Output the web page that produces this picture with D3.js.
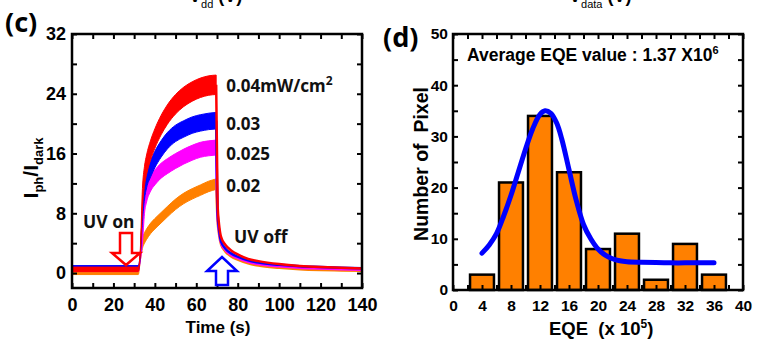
<!DOCTYPE html>
<html><head><meta charset="utf-8">
<script src="https://cdn.jsdelivr.net/npm/d3@7/dist/d3.min.js"></script>
<style>
html,body{margin:0;padding:0;background:#fff;}
svg{display:block;}
</style></head>
<body>
<svg id="c" width="759" height="340"></svg>
<script>
// ---------- Panel (c) data ----------
const seriesNames = ["0.04mW/cm²", "0.03", "0.025", "0.02"];
const seriesColors = ["#ff0000", "#0000ff", "#ff00ff", "#ff8000"];
const timeRise = [0, 32, 33, 34, 35, 36, 38, 40, 43, 46, 50, 54, 58, 62, 66, 69.6];
const redRise     = [0.5, 0.5, 3.0, 10.0, 13.0, 14.5, 16.5, 18.0, 19.8, 21.2, 22.6, 23.6, 24.3, 24.8, 25.1, 25.2];
const blueRise    = [0.7, 0.7, 2.5, 8.0, 11.0, 12.5, 14.0, 15.2, 16.6, 17.7, 18.7, 19.3, 19.8, 20.1, 20.3, 20.4];
const magentaRise = [0.5, 0.5, 2.0, 5.0, 9.0, 10.5, 12.0, 12.8, 13.7, 14.3, 15.0, 15.6, 16.1, 16.5, 16.7, 16.8];
const orangeRise  = [0.1, 0.1, 2.0, 4.0, 4.7, 5.2, 6.0, 6.6, 7.4, 8.2, 9.2, 10.0, 10.6, 11.1, 11.6, 11.9];
const timeDecay = [69.6, 70.3, 71, 72, 74, 77, 80, 85, 90, 100, 110, 120, 130, 140];
const redDecay     = [25.2, 9.0, 6.5, 4.8, 3.8, 3.0, 2.5, 1.9, 1.6, 1.2, 0.95, 0.8, 0.7, 0.6];
const blueDecay    = [20.4, 8.0, 5.8, 4.2, 3.3, 2.6, 2.2, 1.7, 1.4, 1.1, 0.9, 0.8, 0.7, 0.65];
const magentaDecay = [16.8, 7.5, 5.5, 4.0, 3.1, 2.4, 2.0, 1.5, 1.2, 0.9, 0.7, 0.6, 0.5, 0.45];
const orangeDecay  = [11.9, 7.0, 5.2, 3.8, 2.9, 2.2, 1.8, 1.3, 1.0, 0.7, 0.5, 0.4, 0.35, 0.3];
const bandHalfWidth = [1.3, 1.1, 1.0, 0.7];   // noise spread under UV (I_ph/I_dark units)
const riseData = [redRise, blueRise, magentaRise, orangeRise];
const decayData = [redDecay, blueDecay, magentaDecay, orangeDecay];
const xTicksC = [0, 20, 40, 60, 80, 100, 120, 140];
const yTicksC = [0, 8, 16, 24, 32];

// ---------- Panel (d) data ----------
const eqeBins = [4, 8, 12, 16, 20, 24, 28, 32, 36];
const pixelCounts = [3, 21, 34, 23, 8, 11, 2, 9, 3];
const fitX = [4, 5, 6, 7, 8, 9, 10, 11, 12, 12.7, 13.5, 14.3, 15, 16, 17, 18, 19, 20, 21, 22, 23, 24, 26, 28, 30, 32, 34, 36];
const fitY = [7.2, 8.8, 11, 14.5, 18.5, 23, 27.5, 31.5, 34.3, 35, 34.5, 32.6, 29.5, 23.5, 17.5, 12.8, 10, 8, 6.8, 6.1, 5.7, 5.5, 5.4, 5.35, 5.3, 5.3, 5.3, 5.3];
const xTicksD = [0, 4, 8, 12, 16, 20, 24, 28, 32, 36, 40];
const yTicksD = [0, 10, 20, 30, 40, 50];

const svg = d3.select("#c");
svg.append("rect").attr("width", 759).attr("height", 340).attr("fill", "#fff");

const ARIAL = "'Liberation Sans', Arial, sans-serif";
const NOTO = "'Noto Sans', 'Open Sans', sans-serif";

// top cut-off labels from panels above (cropped in the reference as well)
function cutLabel(x, sub) {
  const t = svg.append("text").attr("x", x).attr("y", 2)
    .attr("font-family", ARIAL).attr("font-weight", "bold").attr("font-size", 18).attr("fill", "#000");
  t.append("tspan").text("V");
  t.append("tspan").attr("font-size", 11).attr("dy", 6).attr("font-weight", "normal").text(sub);
  t.append("tspan").attr("dy", -6).text(" (V)");
}
cutLabel(189, "dd");
cutLabel(569, "data");

function drawAxes(g, x, y, xt, xminor, yt, yminor, fs, xpad, ypad) {
  const W = x.range(), H = y.range();
  const ax = (gen, tr, vals, lab) => {
    const a = g.append("g").attr("transform", tr)
      .call(gen.tickValues(vals).tickSizeInner(-5).tickSizeOuter(0)
        .tickFormat(lab ? d3.format("d") : ""));
    a.select(".domain").remove();
    a.selectAll("line").attr("stroke", "#000").attr("stroke-width", 2);
    a.selectAll("text").attr("font-family", ARIAL).attr("font-weight", "bold")
      .attr("font-size", fs).attr("fill", "#000");
    return a;
  };
  const b = ax(d3.axisBottom(x), `translate(0,${H[0]})`, xt, true);
  b.selectAll("text").attr("y", xpad).attr("dy", "0.71em");
  ax(d3.axisBottom(x), `translate(0,${H[0]})`, xminor, false);
  ax(d3.axisTop(x), `translate(0,${H[1]})`, xt, false);
  ax(d3.axisTop(x), `translate(0,${H[1]})`, xminor, false);
  const l = ax(d3.axisLeft(y), `translate(${W[0]},0)`, yt, true);
  l.selectAll("text").attr("x", -ypad);
  ax(d3.axisLeft(y), `translate(${W[0]},0)`, yminor, false);
  ax(d3.axisRight(y), `translate(${W[1]},0)`, yt, false);
  ax(d3.axisRight(y), `translate(${W[1]},0)`, yminor, false);
  g.append("rect").attr("x", W[0]).attr("y", H[1]).attr("width", W[1] - W[0]).attr("height", H[0] - H[1])
    .attr("fill", "none").attr("stroke", "#000").attr("stroke-width", 2.5);
}

// ================= Panel (c) =================
const xC = d3.scaleLinear().domain([0, 140]).range([72, 362]);
const yC = d3.scaleLinear().domain([-2, 32]).range([288, 34]);
const gC = svg.append("g");

const order = [3, 2, 1, 0];
order.forEach(i => {
  const rise = timeRise.map((t, k) => ({ t, v: riseData[i][k], h: t < 33.5 ? 0.3 : bandHalfWidth[i] }));
  gC.append("path").datum(rise)
    .attr("d", d3.area().x(d => xC(d.t)).y0(d => yC(d.v - d.h)).y1(d => yC(d.v + d.h)).curve(d3.curveMonotoneX))
    .attr("fill", seriesColors[i]).attr("stroke", seriesColors[i]).attr("stroke-width", 1);
});
order.forEach(i => {
  const dec = timeDecay.map((t, k) => ({ t, v: decayData[i][k] }));
  gC.append("path").datum(dec)
    .attr("d", d3.line().x(d => xC(d.t)).y(d => yC(d.v)).curve(d3.curveMonotoneX))
    .attr("fill", "none").attr("stroke", seriesColors[i]).attr("stroke-width", 2.5);
});

drawAxes(gC, xC, yC, xTicksC, d3.range(10, 140, 20), yTicksC, d3.range(4, 32, 8), 18, 10, 6);

const labelVals = [25.0, 20.0, 16.0, 11.7];
seriesNames.forEach((n, i) => {
  const t = gC.append("text").attr("x", xC(74.5)).attr("y", yC(labelVals[i]) + 6)
    .attr("font-family", NOTO).attr("font-weight", "bold").attr("font-size", 17).attr("fill", "#111");
  if (n.endsWith("²")) {
    t.append("tspan").text(n.slice(0, -1));
    t.append("tspan").attr("font-size", 12).attr("dy", -7).text("2");
  } else t.text(n);
});

gC.append("text").attr("x", 83).attr("y", 228).attr("font-family", NOTO).attr("font-weight", "bold")
  .attr("font-size", 17.5).attr("fill", "#111").text("UV on");
gC.append("text").attr("x", 234).attr("y", 243).attr("font-family", NOTO).attr("font-weight", "bold")
  .attr("font-size", 17.5).attr("fill", "#111").text("UV off");

function arrowPath(cx, tipY, dir, shaftHalf, headHalf, headLen, total) {
  const s = dir;
  const base = tipY - s * total, headBase = tipY - s * headLen;
  return `M${cx - shaftHalf},${base} L${cx + shaftHalf},${base} L${cx + shaftHalf},${headBase} L${cx + headHalf},${headBase} L${cx},${tipY} L${cx - headHalf},${headBase} L${cx - shaftHalf},${headBase} Z`;
}
gC.append("path").attr("d", arrowPath(126, 265, 1, 6, 14, 12, 32))
  .attr("fill", "#fff").attr("stroke", "#ff0000").attr("stroke-width", 2.5);
gC.append("path").attr("d", arrowPath(222, 257, -1, 6, 15, 14, 28))
  .attr("fill", "#fff").attr("stroke", "#0000ff").attr("stroke-width", 2.5);

const yt = gC.append("text").attr("transform", "translate(38,168) rotate(-90)").attr("text-anchor", "middle")
  .attr("font-family", ARIAL).attr("font-weight", "bold").attr("font-size", 21).attr("fill", "#000");
yt.append("tspan").text("I");
yt.append("tspan").attr("font-size", 13).attr("dy", 5).text("ph");
yt.append("tspan").attr("dy", -5).text("/I");
yt.append("tspan").attr("font-size", 13).attr("dy", 5).text("dark");

gC.append("text").attr("x", 218).attr("y", 333).attr("text-anchor", "middle")
  .attr("font-family", ARIAL).attr("font-weight", "bold").attr("font-size", 17).attr("fill", "#000").text("Time (s)");
gC.append("text").attr("x", 5).attr("y", 32).attr("font-family", NOTO).attr("font-weight", "bold")
  .attr("font-size", 27).attr("fill", "#000").text("(c)");

// ================= Panel (d) =================
const xD = d3.scaleLinear().domain([0, 40]).range([453, 743]);
const yD = d3.scaleLinear().domain([0, 50]).range([290, 34]);
const gD = svg.append("g");
const barW = 3.3;
gD.selectAll("rect.bar").data(eqeBins.map((b, i) => ({ b, c: pixelCounts[i] }))).enter()
  .append("rect").attr("class", "bar")
  .attr("x", d => xD(d.b - barW / 2)).attr("width", xD(barW) - xD(0))
  .attr("y", d => yD(d.c)).attr("height", d => yD(0) - yD(d.c))
  .attr("fill", "#ff8000").attr("stroke", "#000").attr("stroke-width", 2.5);

drawAxes(gD, xD, yD, xTicksD, d3.range(2, 40, 4), yTicksD, d3.range(5, 50, 10), 15.5, 10, 5);

gD.append("path").datum(fitX.map((x, i) => [x, fitY[i]]))
  .attr("d", d3.line().x(d => xD(d[0])).y(d => yD(d[1])).curve(d3.curveCatmullRom))
  .attr("fill", "none").attr("stroke", "#0000ff").attr("stroke-width", 5).attr("stroke-linecap", "round");

const av = gD.append("text").attr("x", 467).attr("y", 61).attr("font-family", ARIAL).attr("font-weight", "bold")
  .attr("font-size", 17.5).attr("fill", "#000");
av.append("tspan").text("Average EQE value : 1.37 X10");
av.append("tspan").attr("font-size", 11).attr("dy", -7).text("6");

gD.append("text").attr("transform", "translate(428,164) rotate(-90)").attr("text-anchor", "middle")
  .attr("font-family", ARIAL).attr("font-weight", "bold").attr("font-size", 19.5).attr("fill", "#000")
  .attr("xml:space", "preserve").text("Number of  Pixel");

const xl = gD.append("text").attr("x", 549).attr("y", 335).attr("font-family", ARIAL).attr("font-weight", "bold")
  .attr("font-size", 18.5).attr("fill", "#000").attr("xml:space", "preserve");
xl.append("tspan").text("EQE  (x 10");
xl.append("tspan").attr("font-size", 12).attr("dy", -7).text("5");
xl.append("tspan").attr("dy", 7).text(")");

gD.append("text").attr("x", 383).attr("y", 47).attr("font-family", NOTO).attr("font-weight", "bold")
  .attr("font-size", 27).attr("fill", "#000").text("(d)");
</script>
</body></html>
